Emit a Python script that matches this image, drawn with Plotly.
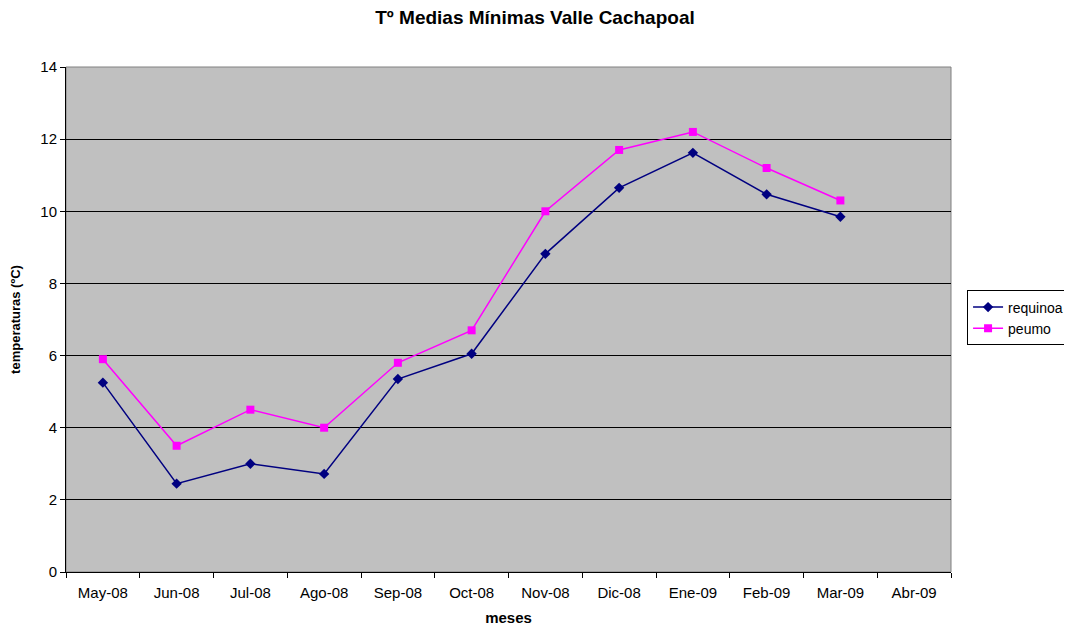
import plotly.graph_objects as go

meses = ["May-08", "Jun-08", "Jul-08", "Ago-08", "Sep-08", "Oct-08", "Nov-08",
         "Dic-08", "Ene-09", "Feb-09", "Mar-09", "Abr-09"]
requinoa = [5.25, 2.45, 3.0, 2.72, 5.35, 6.05, 8.82, 10.65, 11.62, 10.47, 9.85, None]
peumo = [5.9, 3.5, 4.5, 4.0, 5.8, 6.7, 10.0, 11.7, 12.2, 11.2, 10.3, None]

fig = go.Figure()
fig.add_trace(go.Scatter(x=meses, y=requinoa, name="requinoa", mode="lines+markers",
                         line=dict(color="#000080", width=1.5),
                         marker=dict(symbol="diamond", size=8, color="#000080")))
fig.add_trace(go.Scatter(x=meses, y=peumo, name="peumo", mode="lines+markers",
                         line=dict(color="#FF00FF", width=1.5),
                         marker=dict(symbol="square", size=8, color="#FF00FF")))

fig.update_layout(
    width=1072, height=626,
    margin=dict(l=58, r=128, t=59, b=62),
    paper_bgcolor="white", plot_bgcolor="#C0C0C0",
    font=dict(family="Liberation Sans, Arial", size=15, color="black"),
    title=dict(text="<b>Tº Medias Mínimas Valle Cachapoal</b>", x=0.4916, xref="container",
               xanchor="center", y=0.985, yanchor="middle",
               font=dict(size=19)),
    showlegend=True,
    legend=dict(x=1.017, y=0.503, xanchor="left", yanchor="middle",
                bordercolor="black", borderwidth=1, bgcolor="white",
                font=dict(size=14), tracegroupgap=0, itemwidth=30),
    xaxis=dict(type="category", range=[-0.5, 11.5], showgrid=False, automargin=False,
               showline=True, linecolor="black", linewidth=1, mirror=False,
               ticks="outside", ticklen=5, tickcolor="black",
               tickson="boundaries", ticklabelstandoff=7,
               title=dict(text="<b>meses</b>", font=dict(size=15), standoff=12)),
    yaxis=dict(range=[0, 14], dtick=2, showgrid=True, gridcolor="black", gridwidth=1,
               showline=True, linecolor="black", linewidth=1, automargin=False,
               ticks="outside", ticklen=5, tickcolor="black", zeroline=False,
               tickfont=dict(size=15),
               title=dict(text="<b>temperaturas (ºC)</b>", font=dict(size=13), standoff=16)),
)
# right/top border of plot area
fig.add_shape(type="rect", xref="paper", yref="paper", x0=0, y0=0, x1=1, y1=1,
              line=dict(color="#808080", width=1), layer="below")

fig.write_html("out.html")
